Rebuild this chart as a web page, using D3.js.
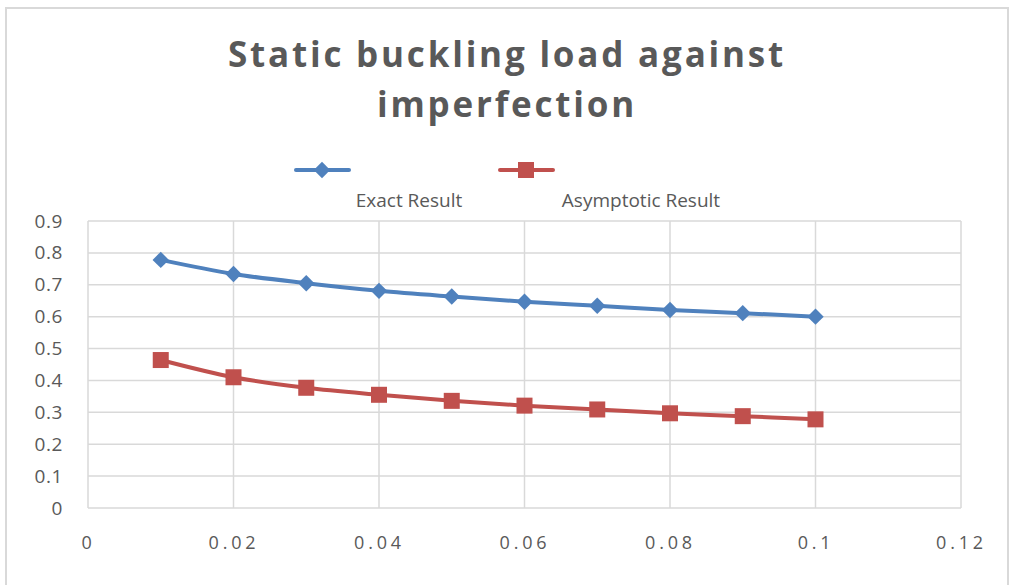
<!DOCTYPE html>
<html>
<head>
<meta charset="utf-8">
<script src="https://cdn.jsdelivr.net/npm/d3@7"></script>
<style>
  body { margin: 0; background: #fff; }
  text { font-family: "Open Sans", sans-serif; fill: #595959; }
</style>
</head>
<body>
<div id="chart"></div>
<script>
var imperfection = [0.01, 0.02, 0.03, 0.04, 0.05, 0.06, 0.07, 0.08, 0.09, 0.1]
var exactResult = [0.778, 0.734, 0.705, 0.681, 0.663, 0.647, 0.634, 0.621, 0.611, 0.600]
var asymptoticResult = [0.464, 0.410, 0.377, 0.355, 0.336, 0.321, 0.309, 0.297, 0.288, 0.278]
var xTicks = [0, 0.02, 0.04, 0.06, 0.08, 0.1, 0.12]
var yTicks = [0, 0.1, 0.2, 0.3, 0.4, 0.5, 0.6, 0.7, 0.8, 0.9]
var seriesNames = ["Exact Result", "Asymptotic Result"]
var seriesColors = ["#4f81bd", "#c0504d"]

var W = 1010, H = 585
var svg = d3.select("#chart").append("svg")
    .attr("width", W).attr("height", H)

// chart border
svg.append("rect")
    .attr("x", 6).attr("y", 8)
    .attr("width", 1002).attr("height", 590)
    .attr("fill", "none").attr("stroke", "#d9d9d9").attr("stroke-width", 2)

var x = d3.scaleLinear().domain([0, 0.12]).range([88, 961])
var y = d3.scaleLinear().domain([0, 0.9]).range([508, 221])

// gridlines
svg.append("g").selectAll("line").data(yTicks).join("line")
    .attr("x1", x(0)).attr("x2", x(0.12))
    .attr("y1", d => y(d)).attr("y2", d => y(d))
    .attr("stroke", "#d9d9d9").attr("stroke-width", 1.5)
svg.append("g").selectAll("line").data(xTicks).join("line")
    .attr("x1", d => x(d)).attr("x2", d => x(d))
    .attr("y1", y(0)).attr("y2", y(0.9))
    .attr("stroke", "#d9d9d9").attr("stroke-width", 1.5)

// axes (labels only)
var yAxis = svg.append("g")
    .attr("transform", "translate(" + x(0) + ",0)")
    .call(d3.axisLeft(y).tickValues(yTicks).tickSize(0).tickPadding(25)
        .tickFormat(d => d === 0 ? "0" : d3.format(".1f")(d)))
yAxis.select(".domain").remove()
yAxis.selectAll("text").attr("font-size", 19).attr("fill", "#595959")
    .attr("font-family", "Open Sans").style("letter-spacing", "0.6px")

var xAxis = svg.append("g")
    .attr("transform", "translate(0," + y(0) + ")")
    .call(d3.axisBottom(x).tickValues(xTicks).tickSize(0).tickPadding(28)
        .tickFormat(d => d === 0 ? "0" : String(+d.toFixed(2))))
xAxis.select(".domain").remove()
xAxis.selectAll("text").attr("font-size", 18).attr("fill", "#595959")
    .attr("font-family", "Open Sans").style("letter-spacing", "3.8px")

// title
var title = svg.append("text")
    .attr("text-anchor", "middle")
    .attr("font-size", 35).attr("font-weight", "bold")
    .style("letter-spacing", "2.8px")
title.append("tspan").attr("x", 507).attr("y", 67).text("Static buckling load against")
title.append("tspan").attr("x", 507).attr("y", 117).text("imperfection")

// lines
var line = d3.line()
    .x((d, i) => x(imperfection[i]))
    .y(d => y(d))
    .curve(d3.curveCatmullRom.alpha(0.5))

var allSeries = [exactResult, asymptoticResult]
allSeries.forEach(function (vals, k) {
    svg.append("path")
        .datum(vals)
        .attr("fill", "none")
        .attr("stroke", seriesColors[k])
        .attr("stroke-width", 4)
        .attr("stroke-linejoin", "round")
        .attr("d", line)
})

// markers
svg.append("g").selectAll("path").data(exactResult).join("path")
    .attr("transform", (d, i) => "translate(" + x(imperfection[i]) + "," + y(d) + ") rotate(45)")
    .attr("d", "M-5.8,-5.8H5.8V5.8H-5.8Z")
    .attr("fill", seriesColors[0])
svg.append("g").selectAll("rect").data(asymptoticResult).join("rect")
    .attr("x", (d, i) => x(imperfection[i]) - 8)
    .attr("y", d => y(d) - 8)
    .attr("width", 16).attr("height", 16)
    .attr("fill", seriesColors[1])

// legend
var legendX = [322, 526]
var legendTextX = [409, 641]
seriesNames.forEach(function (name, k) {
    var g = svg.append("g")
    g.append("line")
        .attr("x1", legendX[k] - 26).attr("x2", legendX[k] + 27)
        .attr("y1", 170).attr("y2", 170)
        .attr("stroke", seriesColors[k]).attr("stroke-width", 4)
        .attr("stroke-linecap", "round")
    if (k === 0) {
        g.append("path")
            .attr("transform", "translate(" + legendX[k] + ",170) rotate(45)")
            .attr("d", "M-5.8,-5.8H5.8V5.8H-5.8Z")
            .attr("fill", seriesColors[k])
    } else {
        g.append("rect")
            .attr("x", legendX[k] - 8).attr("y", 162)
            .attr("width", 16).attr("height", 16)
            .attr("fill", seriesColors[k])
    }
    g.append("text")
        .attr("x", legendTextX[k]).attr("y", 207)
        .attr("text-anchor", "middle")
        .attr("font-size", 19)
        .text(name)
})
</script>
</body>
</html>
